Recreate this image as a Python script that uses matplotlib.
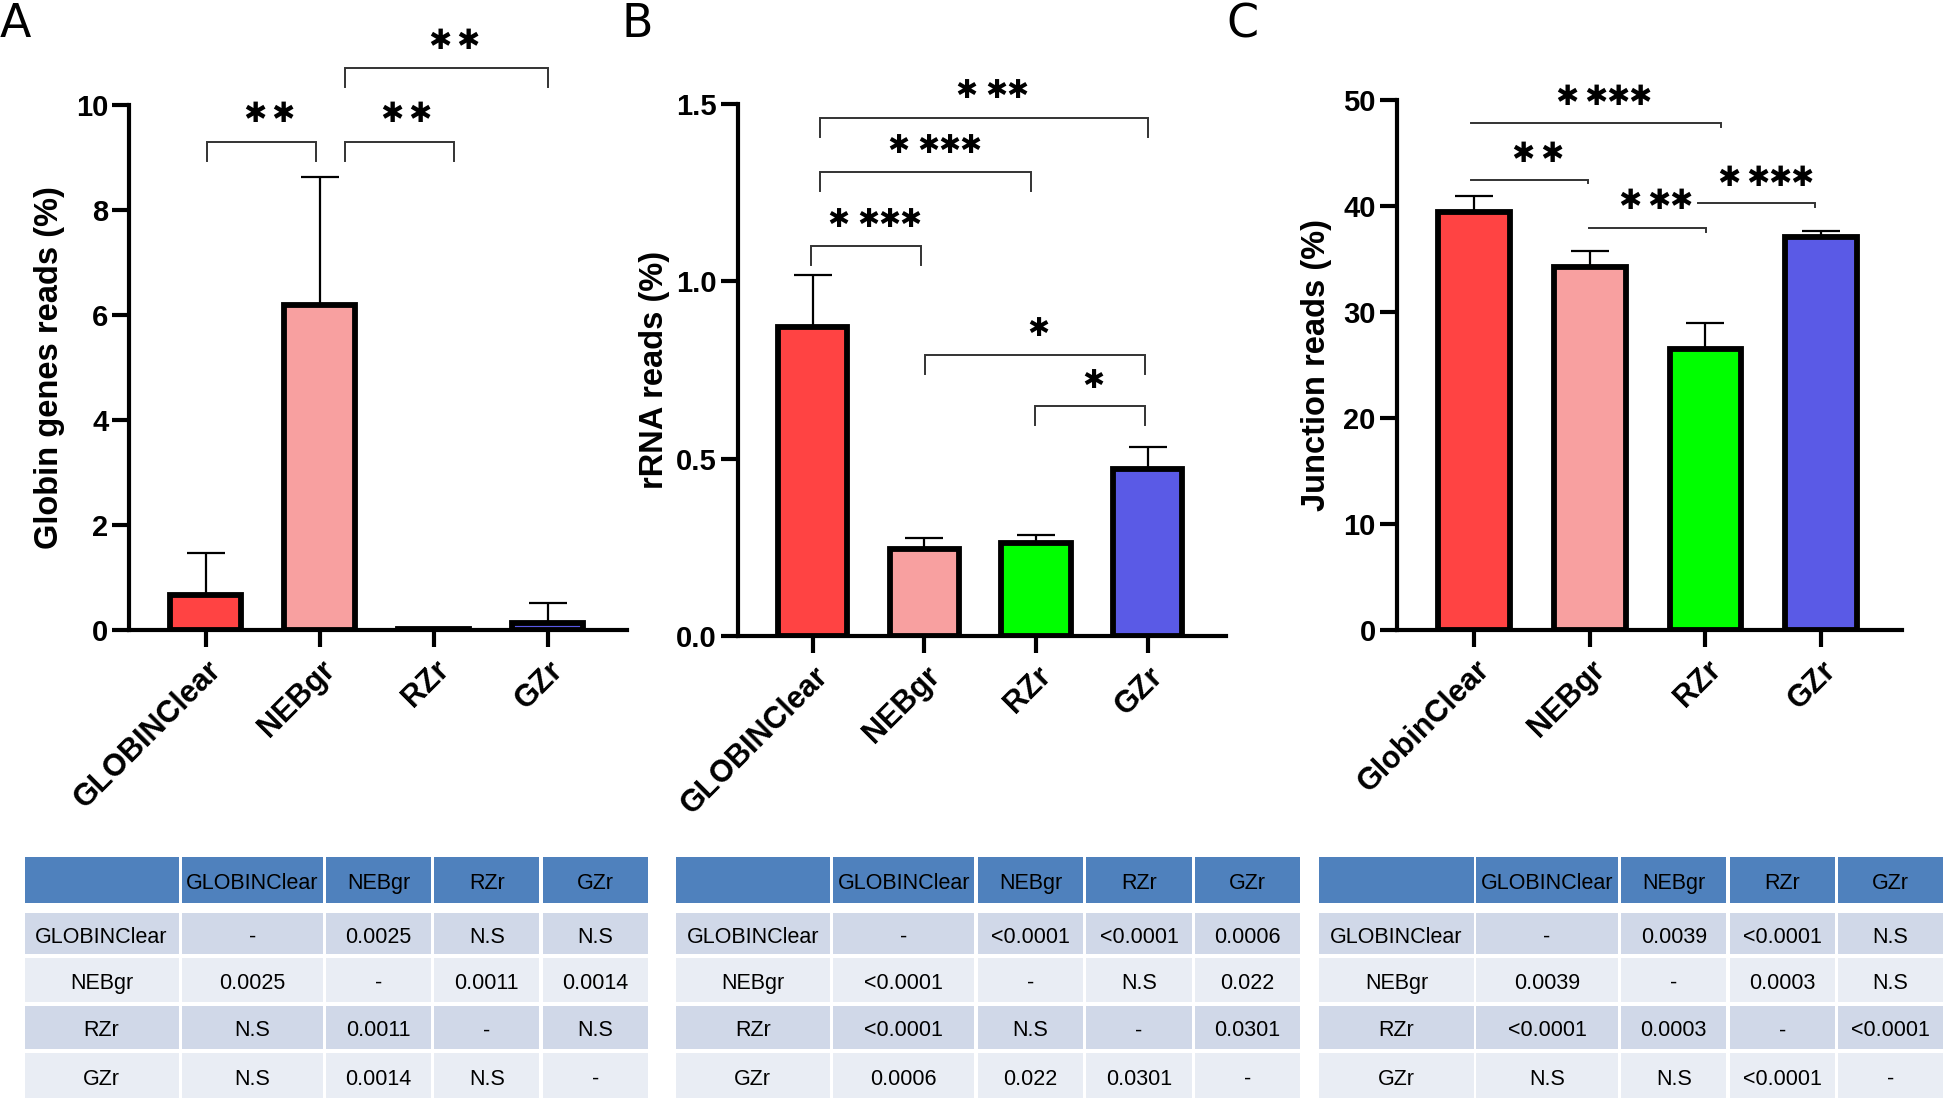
import matplotlib
matplotlib.use("Agg")
import matplotlib.pyplot as plt
from matplotlib.patches import Rectangle
import numpy as np

# ---------------- data ----------------
groups_ab = ["GLOBINClear", "NEBgr", "RZr", "GZr"]
groups_c = ["GlobinClear", "NEBgr", "RZr", "GZr"]

globin_mean = [0.66, 6.19, 0.01, 0.13]
globin_sd = [0.80, 2.44, 0.0, 0.38]
rrna_mean = [0.870, 0.244, 0.261, 0.470]
rrna_sd = [0.149, 0.032, 0.023, 0.063]
junction_mean = [39.4, 34.25, 26.5, 37.07]
junction_sd = [1.5, 1.55, 2.5, 0.6]

bar_colors = ["#FF4343", "#F8A0A0", "#00FF00", "#5A5AE6"]

table_header = ["", "GLOBINClear", "NEBgr", "RZr", "GZr"]
table_rows = ["GLOBINClear", "NEBgr", "RZr", "GZr"]
pvals_a = [["-", "0.0025", "N.S", "N.S"],
           ["0.0025", "-", "0.0011", "0.0014"],
           ["N.S", "0.0011", "-", "N.S"],
           ["N.S", "0.0014", "N.S", "-"]]
pvals_b = [["-", "<0.0001", "<0.0001", "0.0006"],
           ["<0.0001", "-", "N.S", "0.022"],
           ["<0.0001", "N.S", "-", "0.0301"],
           ["0.0006", "0.022", "0.0301", "-"]]
pvals_c = [["-", "0.0039", "<0.0001", "N.S"],
           ["0.0039", "-", "0.0003", "N.S"],
           ["<0.0001", "0.0003", "-", "<0.0001"],
           ["N.S", "N.S", "<0.0001", "-"]]

# significance brackets: (x_left, x_right, y_line, n_stars, label_x, label_y)
sig_a = [(0.01, 0.97, 9.30, 2, 0.556, 9.83),
         (1.22, 2.18, 9.30, 2, 1.756, 9.83),
         (1.22, 3.00, 10.71, 2, 2.18, 11.21)]
sig_b = [(0.063, 3.00, 1.460, 3, 1.606, 1.537),
         (0.063, 1.957, 1.307, 4, 1.085, 1.381),
         (-0.015, 0.969, 1.099, 4, 0.552, 1.172),
         (1.006, 2.978, 0.793, 1, 2.024, 0.867),
         (1.994, 2.971, 0.648, 1, 2.516, 0.720)]
sig_c = [(-0.029, 2.131, 47.8, 4, 1.121, 50.25),
         (-0.029, 0.985, 42.5, 2, 0.546, 44.9),
         (0.995, 2.005, 37.94, 3, 1.57, 40.44),
         (1.940, 2.946, 40.25, 4, 2.515, 42.6)]

# ---------------- figure ----------------
W, H = 1943, 1098
fig = plt.figure(figsize=(W / 100, H / 100), dpi=100)
plt.rcParams['font.family'] = ['Liberation Sans', 'DejaVu Sans']


def fx(px):
    return px / W


def fy(py):
    return 1 - py / H


def make_axes(left, right, top, bottom):
    return fig.add_axes([fx(left), fy(bottom), fx(right) - fx(left), fy(top) - fy(bottom)])


BOLD = dict(fontweight='bold', family='Liberation Sans')


def bar_panel(ax, groups, mean, sd, ylim, yticks, yticklabels, ylabel, label_x):
    x = np.arange(len(groups))
    ax.errorbar(x, mean, yerr=[np.zeros(len(sd)), sd], fmt='none', ecolor='black',
                elinewidth=1.6, capsize=14, capthick=1.6, zorder=2)
    ax.bar(x, mean, width=0.62, color=bar_colors, edgecolor='black', linewidth=4.2, zorder=3)
    ax.set_xlim(-0.67, 3.70)
    ax.set_ylim(*ylim)
    ax.set_yticks(yticks)
    ax.set_yticklabels(yticklabels, fontsize=21, **BOLD)
    ax.set_xticks(x)
    ax.set_xticklabels(groups, rotation=45, ha='right', va='top', rotation_mode='anchor',
                       fontsize=22, **BOLD)
    ax.set_ylabel(ylabel, fontsize=23.5, **BOLD)
    ax.yaxis.set_label_coords(label_x, 0.5)
    for s in ['top', 'right']:
        ax.spines[s].set_visible(False)
    for s in ['left', 'bottom']:
        ax.spines[s].set_linewidth(3)
    ax.tick_params(axis='both', direction='out', length=12, width=3, pad=3)
    ax.tick_params(axis='x', pad=6)
    ax.patch.set_alpha(0)


STAR = "\u2731"


def draw_stars(ax, x, y, n, first_gap, step, size):
    centers = [0.0]
    for k in range(1, n):
        centers.append(first_gap + step * (k - 1))
    mid = (centers[0] + centers[-1]) / 2
    for c in centers:
        ax.annotate(STAR, xy=(x, y), xytext=((c - mid) * 0.72, 0), textcoords='offset points',
                    ha='center', va='center', fontsize=size, family='DejaVu Sans',
                    fontweight='bold', annotation_clip=False, color='black')


def draw_brackets(ax, sigs, drop, left_tick, star_gap, star_step, star_size):
    for (x1, x2, y, n, lx, ly) in sigs:
        xs, ys = [], []
        if left_tick:
            xs += [x1]
            ys += [y - drop]
        xs += [x1, x2, x2]
        ys += [y, y, y - (drop if left_tick else drop * 0.35)]
        ax.plot(xs, ys, color='#333333', lw=1.4, clip_on=False, zorder=4,
                solid_joinstyle='miter')
        draw_stars(ax, lx, ly, n, star_gap, star_step, star_size)


# Panel A
axA = make_axes(129.3, 627.3, 105, 630)
bar_panel(axA, groups_ab, globin_mean, globin_sd, (0, 10), [0, 2, 4, 6, 8, 10],
          ["0", "2", "4", "6", "8", "10"], "Globin genes reads (%)", -0.129)
draw_brackets(axA, sig_a, 0.37, True, 28, 21, 20)

# Panel B
axB = make_axes(737.8, 1226, 104, 636)
bar_panel(axB, groups_ab, rrna_mean, rrna_sd, (0, 1.5), [0, 0.5, 1.0, 1.5],
          ["0.0", "0.5", "1.0", "1.5"], "rRNA reads (%)", -0.139)
draw_brackets(axB, sig_b, 0.053, True, 30, 21, 19)

# Panel C
axC = make_axes(1396.7, 1902, 100, 630)
bar_panel(axC, groups_c, junction_mean, junction_sd, (0, 50), [0, 10, 20, 30, 40, 50],
          ["0", "10", "20", "30", "40", "50"], "Junction reads (%)", -0.128)
draw_brackets(axC, sig_c, 1.0, False, 29, 22, 20)

# Panel letters
for letter, px in [("A", 0), ("B", 622), ("C", 1226)]:
    fig.text(fx(px), fy(37), letter, fontsize=33, family='DejaVu Sans', ha='left', va='baseline')

# ---------------- tables ----------------
row_edges = [(856.7, 903.3), (913.3, 954), (957.7, 1002), (1005.7, 1049.3), (1053.3, 1098)]
cols_a = [(24.6, 178.6), (181.7, 322.8), (326.3, 430.8), (434.4, 539.3), (542.9, 648.2)]
cols_b = [(676, 829.6), (833, 974.4), (977.8, 1083), (1086.4, 1191.6), (1195, 1299.7)]
cols_c = [(1319.3, 1473.5), (1476.3, 1617.8), (1621, 1726.5), (1729.7, 1835.1), (1838, 1943)]

HEAD_C = "#4F81BD"
ROW_C = ["#D0D8E8", "#E9EDF4"]


def draw_table(cols, pvals):
    for r, (t, b) in enumerate(row_edges):
        for c, (l, rr) in enumerate(cols):
            if r == 0:
                color = HEAD_C
                txt = table_header[c]
            else:
                color = ROW_C[(r - 1) % 2]
                txt = table_rows[r - 1] if c == 0 else pvals[r - 1][c - 1]
            fig.patches.append(Rectangle((fx(l), fy(b)), fx(rr) - fx(l), fy(t) - fy(b),
                                         transform=fig.transFigure, facecolor=color,
                                         edgecolor='none', zorder=1))
            if txt:
                fig.text(fx((l + rr) / 2), fy((t + b) / 2 + 3.5), txt, ha='center',
                         va='center', fontsize=15.5, family='Liberation Sans',
                         color='black', zorder=2)


draw_table(cols_a, pvals_a)
draw_table(cols_b, pvals_b)
draw_table(cols_c, pvals_c)

fig.savefig("out.png", dpi=100, facecolor='white')
